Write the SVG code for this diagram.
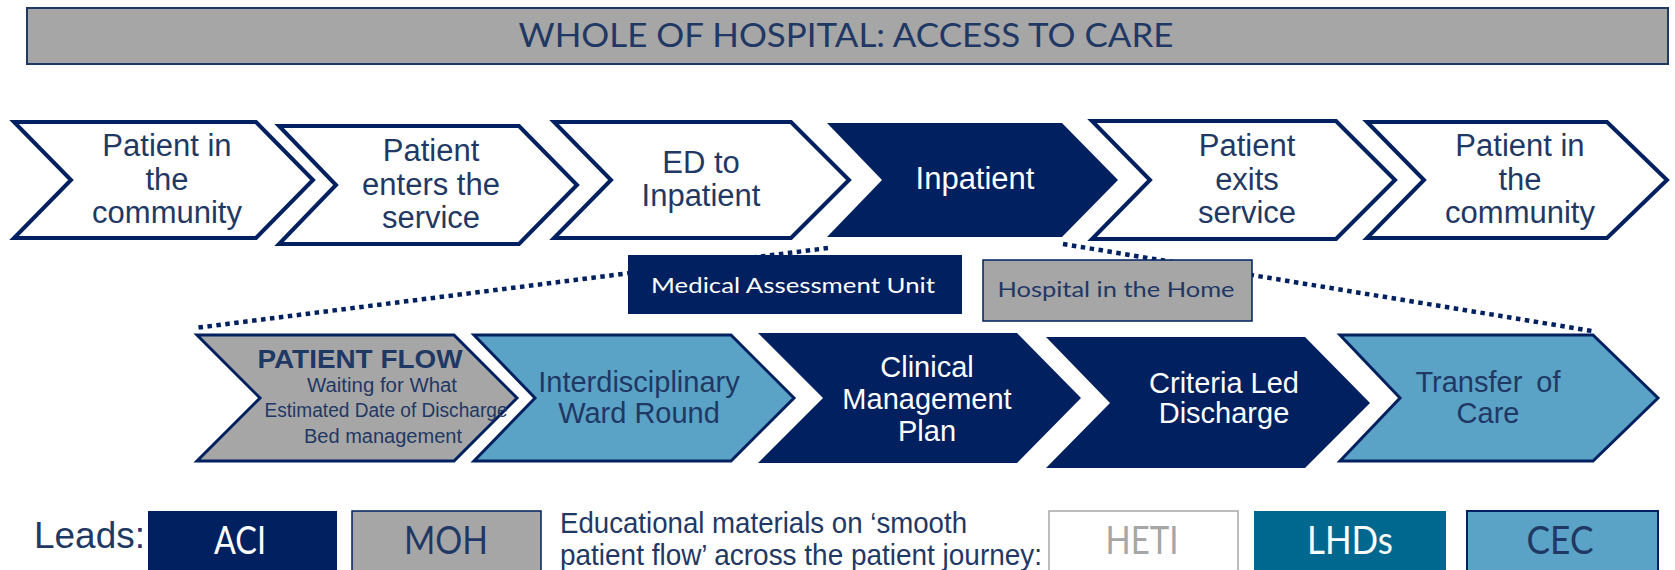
<svg xmlns="http://www.w3.org/2000/svg" width="1675" height="570" viewBox="0 0 1675 570">
<style>
.bg{fill:#ffffff}
.outline{fill:#ffffff;stroke:#002060;stroke-width:4;stroke-linejoin:miter}
.navy{fill:#002060}
.gray{fill:#A6A6A6;stroke:#002060;stroke-width:3}
.blue{fill:#5AA2C6;stroke:#002060;stroke-width:3}
.arial{font-family:"Liberation Sans",Arial,sans-serif}
.cal{font-family:Lato,"Open Sans",sans-serif}
.t31{font-size:31px;fill:#1F3864;text-anchor:middle}
.t29{font-size:29px;text-anchor:middle}
.tn{fill:#1F3864}
.tw{fill:#ffffff}
.small{font-size:20px;fill:#1F3864;text-anchor:middle}
.dots{fill:none;stroke:#002060;stroke-width:4.5;stroke-dasharray:4.5 4.5}
.leg{font-size:38px;text-anchor:middle}
</style>
<rect class="bg" x="0" y="0" width="1675" height="570"/>

<g id="title">
<rect x="27" y="8" width="1641" height="56" fill="#A6A6A6" stroke="#1F3864" stroke-width="2"/>
<text class="cal" x="846" y="47" font-size="33" fill="#1F3864" text-anchor="middle" textLength="655" lengthAdjust="spacingAndGlyphs">WHOLE OF HOSPITAL: ACCESS TO CARE</text>
</g>

<g id="connectors">
<line class="dots" x1="828" y1="248" x2="195" y2="328"/>
<line class="dots" x1="1063" y1="244" x2="1592" y2="331"/>
</g>

<g id="step-community-1">
<path class="outline" d="M14,122 H256 L313,180 L256,238 H14 L71,180 Z"/>
<text class="arial t31" x="167" y="156">Patient in</text>
<text class="arial t31" x="167" y="190">the</text>
<text class="arial t31" x="167" y="223">community</text>
</g>

<g id="step-enters">
<path class="outline" d="M279,126 H519 L577,185 L519,244 H279 L336,185 Z"/>
<text class="arial t31" x="431" y="161">Patient</text>
<text class="arial t31" x="431" y="195">enters the</text>
<text class="arial t31" x="431" y="228">service</text>
</g>

<g id="step-ed">
<path class="outline" d="M554,122 H791 L849,180 L791,238 H554 L611,180 Z"/>
<text class="arial t31" x="701" y="173">ED to</text>
<text class="arial t31" x="701" y="206">Inpatient</text>
</g>

<g id="step-inpatient">
<path class="navy" d="M827,123 H1062 L1118,180 L1062,237 H827 L882,180 Z"/>
<text class="arial t31" x="975" y="189" style="fill:#ffffff">Inpatient</text>
</g>

<g id="step-exits">
<path class="outline" d="M1092,121 H1336 L1395,180 L1336,239 H1092 L1150,180 Z"/>
<text class="arial t31" x="1247" y="156">Patient</text>
<text class="arial t31" x="1247" y="190">exits</text>
<text class="arial t31" x="1247" y="223">service</text>
</g>

<g id="step-community-2">
<path class="outline" d="M1367,122 H1607 L1667,180 L1607,238 H1367 L1424,180 Z"/>
<text class="arial t31" x="1520" y="156">Patient in</text>
<text class="arial t31" x="1520" y="190">the</text>
<text class="arial t31" x="1520" y="223">community</text>
</g>

<g id="mau">
<rect class="navy" x="628" y="255" width="334" height="59"/>
<text class="cal" x="793" y="293" font-size="22" fill="#ffffff" text-anchor="middle" textLength="284" lengthAdjust="spacingAndGlyphs">Medical Assessment Unit</text>
</g>

<g id="hith">
<rect x="983" y="260" width="269" height="61" fill="#A6A6A6" stroke="#002060" stroke-width="1.5"/>
<text class="cal" x="1116" y="297" font-size="22" fill="#1F3864" text-anchor="middle" textLength="237" lengthAdjust="spacingAndGlyphs">Hospital in the Home</text>
</g>

<g id="patient-flow">
<path class="gray" d="M197,335 H454 L517,398 L454,461 H197 L260,398 Z"/>
<text class="arial" x="360" y="368" font-size="26" font-weight="bold" fill="#1F3864" text-anchor="middle" textLength="205" lengthAdjust="spacingAndGlyphs">PATIENT FLOW</text>
<text class="arial small" x="382" y="392" textLength="150" lengthAdjust="spacingAndGlyphs">Waiting for What</text>
<text class="arial small" x="386" y="417" textLength="243" lengthAdjust="spacingAndGlyphs">Estimated Date of Discharge</text>
<text class="arial small" x="383" y="443" textLength="158" lengthAdjust="spacingAndGlyphs">Bed management</text>
</g>

<g id="ward-round">
<path class="blue" d="M474,335 H731 L794,398 L731,461 H474 L535,398 Z"/>
<text class="arial t29 tn" x="639" y="392">Interdisciplinary</text>
<text class="arial t29 tn" x="639" y="423">Ward Round</text>
</g>

<g id="clinical-plan">
<path class="navy" d="M758,333 H1017 L1081,398 L1017,463 H758 L823,398 Z"/>
<text class="arial t29 tw" x="927" y="377">Clinical</text>
<text class="arial t29 tw" x="927" y="409">Management</text>
<text class="arial t29 tw" x="927" y="441">Plan</text>
</g>

<g id="criteria-discharge">
<path class="navy" d="M1046,337 H1305 L1370,403 L1305,468 H1046 L1110,403 Z"/>
<text class="arial t29 tw" x="1224" y="393">Criteria Led</text>
<text class="arial t29 tw" x="1224" y="423">Discharge</text>
</g>

<g id="transfer-care">
<path class="blue" d="M1340,335 H1593 L1658,398 L1593,461 H1340 L1400,398 Z"/>
<text class="arial t29 tn" x="1488" y="392" word-spacing="6">Transfer of</text>
<text class="arial t29 tn" x="1488" y="423">Care</text>
</g>

<g id="legend">
<text class="arial" x="34" y="548" font-size="37" fill="#1F3864" textLength="111" lengthAdjust="spacingAndGlyphs">Leads:</text>
<g id="lead-aci">
<rect class="navy" x="148" y="511" width="189" height="65"/>
<text class="cal leg" x="240" y="554" fill="#ffffff" textLength="52" lengthAdjust="spacingAndGlyphs">ACI</text>
</g>
<g id="lead-moh">
<rect x="352" y="511" width="189" height="65" fill="#A6A6A6" stroke="#002060" stroke-width="1.5"/>
<text class="cal leg" x="446" y="554" fill="#1F3864" textLength="84" lengthAdjust="spacingAndGlyphs">MOH</text>
</g>
<g id="edu-note">
<text class="arial" x="560" y="533" font-size="29" fill="#1F3864" textLength="407" lengthAdjust="spacingAndGlyphs">Educational materials on ‘smooth</text>
<text class="arial" x="560" y="565" font-size="29" fill="#1F3864" textLength="482" lengthAdjust="spacingAndGlyphs">patient flow’ across the patient journey:</text>
</g>
<g id="lead-heti">
<rect x="1049" y="511" width="189" height="65" fill="#ffffff" stroke="#A6A6A6" stroke-width="1.5"/>
<text class="cal leg" x="1142" y="554" fill="#A6A6A6" textLength="73" lengthAdjust="spacingAndGlyphs">HETI</text>
</g>
<g id="lead-lhds">
<rect x="1254" y="511" width="192" height="65" fill="#00688F"/>
<text class="cal leg" x="1350" y="554" fill="#ffffff" textLength="86" lengthAdjust="spacingAndGlyphs">LHDs</text>
</g>
<g id="lead-cec">
<rect x="1467" y="511" width="191" height="65" fill="#5AA2C6" stroke="#002060" stroke-width="2"/>
<text class="cal leg" x="1560" y="554" fill="#1F3864" textLength="67" lengthAdjust="spacingAndGlyphs">CEC</text>
</g>
</g>
</svg>
